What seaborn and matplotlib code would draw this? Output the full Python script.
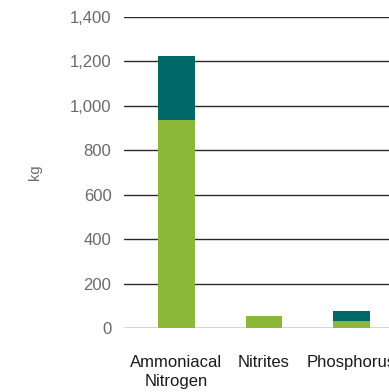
import matplotlib
matplotlib.use("Agg")
import matplotlib.pyplot as plt
import seaborn as sns
import pandas as pd

categories = ["Ammoniacal\nNitrogen", "Nitrites", "Phosphorus"]
lower_values = [936, 54, 31]     # green segment
upper_values = [289, 0, 45]      # teal segment
y_ticks = [0, 200, 400, 600, 800, 1000, 1200, 1400]

totals = [a + b for a, b in zip(lower_values, upper_values)]
df = pd.DataFrame({"category": categories, "lower": lower_values, "total": totals})

sns.set_theme(style="white")
plt.rcParams["font.family"] = ["Liberation Sans", "DejaVu Sans"]

fig = plt.figure(figsize=(3.89, 3.92), dpi=100)
ax = fig.add_axes([124 / 389, 64 / 392, 1 - 124 / 389, (328 - 17) / 392])

teal = "#006967"
green = "#8cb83a"

sns.barplot(data=df, x="category", y="total", color=teal, width=0.42,
            saturation=1, linewidth=0, ax=ax, zorder=3)
sns.barplot(data=df, x="category", y="lower", color=green, width=0.42,
            saturation=1, linewidth=0, ax=ax, zorder=4)

ax.set_ylim(0, 1400)
ax.set_xlim(-0.6, 2.43)
ax.set_yticks(y_ticks)
ax.set_yticklabels([f"{v:,}" for v in y_ticks])

for v in y_ticks:
    ax.axhline(v, color="#2a2a2a", linewidth=1.0, zorder=1)

for s in ax.spines.values():
    s.set_visible(False)

ax.tick_params(axis="y", length=0, pad=9, labelsize=12, labelcolor="#6a6a6a")
ax.tick_params(axis="x", length=0, pad=19.5, labelsize=12, labelcolor="#1a1a1a")
for lbl in ax.get_xticklabels():
    lbl.set_linespacing(1.35)

ax.set_xlabel("")
ax.set_ylabel("")
fig.text(35 / 389, 1 - 172 / 392, "kg", rotation=90, ha="center", va="center",
         fontsize=10.5, color="#6a6a6a")

fig.savefig("out.png", dpi=100)
